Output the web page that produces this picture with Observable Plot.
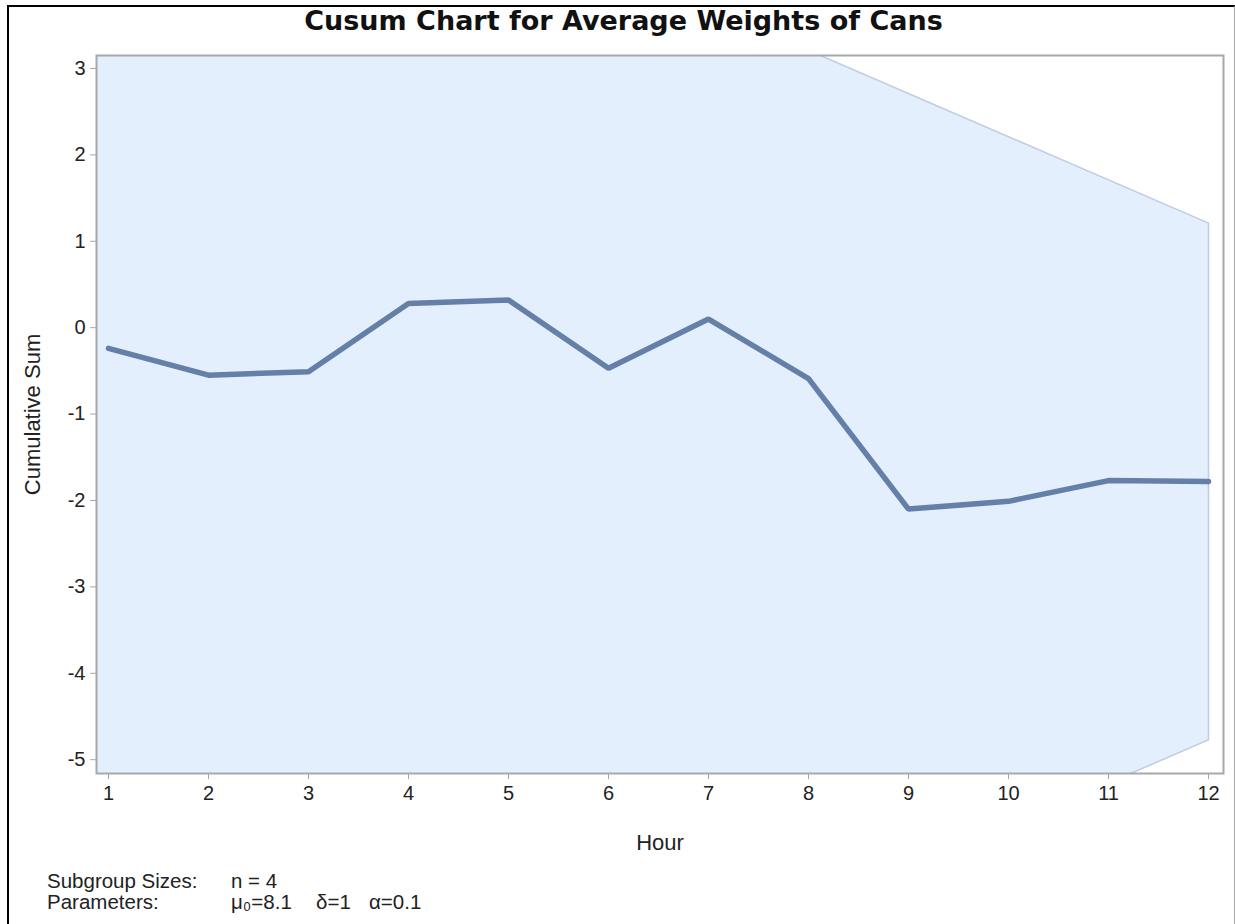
<!DOCTYPE html>
<html>
<head>
<meta charset="utf-8">
<script src="https://cdn.jsdelivr.net/npm/d3@7"></script>
<script src="https://cdn.jsdelivr.net/npm/@observablehq/plot@0.6"></script>
<style>
  html, body { margin: 0; padding: 0; background: #fff; overflow: hidden; }
  #wrap { position: relative; width: 1235px; height: 924px; overflow: hidden; font-family: "Liberation Sans", Arial, sans-serif; }
  #border { position: absolute; left: 7px; top: 5px; width: 1225px; height: 940px; border-left: 2px solid #000; border-top: 2px solid #000; border-right: 1px solid #aaa; }
  #title { position: absolute; left: 0; width: 1247px; top: 5px; text-align: center; font-family: "DejaVu Sans", sans-serif; font-weight: bold; font-size: 27px; color: #111; }
  #chart { position: absolute; left: 0; top: 0; }
  .foot { position: absolute; font-size: 20.5px; color: #222; line-height: 20.5px; white-space: pre; }
</style>
</head>
<body>
<div id="wrap">
  <div id="border"></div>
  <div id="chart"></div>
  <div id="title"></div>
  <div class="foot" id="f1l" style="left:47px; top:871px;"></div>
  <div class="foot" id="f2l" style="left:47px; top:892px;"></div>
  <div class="foot" id="f1r" style="left:231px; top:871px;"></div>
  <div class="foot" id="f2a" style="left:231px; top:892px;"></div>
  <div class="foot" id="f2b" style="left:316px; top:892px;"></div>
  <div class="foot" id="f2c" style="left:369px; top:892px;"></div>
</div>
<script>
// ---- data ----
const titleText = "Cusum Chart for Average Weights of Cans";
const hours = [1, 2, 3, 4, 5, 6, 7, 8, 9, 10, 11, 12];
const cusum = [-0.24, -0.55, -0.51, 0.28, 0.32, -0.47, 0.10, -0.59, -2.10, -2.01, -1.77, -1.78];
const xTicks = [1, 2, 3, 4, 5, 6, 7, 8, 9, 10, 11, 12];
const yTicks = [3, 2, 1, 0, -1, -2, -3, -4, -5];
// V-mask parameters (half-height h at the last point, arm slope k)
const maskH = 2.99;
const maskK = 0.5;
const maskX = [0, 12];
const footLabels = ["Subgroup Sizes:", "Parameters:"];
const footValues = ["n = 4", "\u03bc\u2080=8.1", "\u03b4=1", "\u03b1=0.1"];

// ---- build tables ----
const series = hours.map((h, i) => ({hour: h, sum: cusum[i]}));
const lastX = hours[hours.length - 1];
const lastY = cusum[cusum.length - 1];
const mask = maskX.map(x => ({
  x,
  lo: lastY - maskH - maskK * (lastX - x),
  hi: lastY + maskH + maskK * (lastX - x)
}));
const outline = [
  ...mask.map(d => ({x: d.x, y: d.hi})),
  ...mask.slice().reverse().map(d => ({x: d.x, y: d.lo}))
];

const chart = Plot.plot({
  width: 1235,
  height: 860,
  marginLeft: 96,
  marginRight: 12,
  marginTop: 55,
  marginBottom: 87,
  style: {fontFamily: "Liberation Sans, Arial, sans-serif", fontSize: "20px", color: "#222", background: "transparent"},
  x: {domain: [0.88, 12.15]},
  y: {domain: [-5.16, 3.15]},
  marks: [
    Plot.areaY(mask, {x: "x", y1: "lo", y2: "hi", fill: "#e3effd", clip: true}),
    Plot.line(outline, {x: "x", y: "y", stroke: "#c2cde2", strokeWidth: 1.6, clip: true}),
    Plot.line(series, {x: "hour", y: "sum", stroke: "#6580a8", strokeWidth: 5.5, strokeLinejoin: "miter"}),
    Plot.frame({stroke: "#a8a8a8", strokeWidth: 2}),
    Plot.axisX({ticks: xTicks, tickFormat: d => String(d), tickSize: 6, tickPadding: 6, stroke: "#a8a8a8", fill: "#222", fontSize: 20}),
    Plot.axisX({ticks: [], label: "Hour", labelAnchor: "center", labelArrow: "none", labelOffset: 76, fontSize: 22, fill: "#222"}),
    Plot.axisY({ticks: yTicks, tickFormat: d => String(d), tickSize: 6, tickPadding: 5, stroke: "#a8a8a8", fill: "#222", fontSize: 20}),
    Plot.axisY({ticks: [], label: "Cumulative Sum", labelAnchor: "center", labelArrow: "none", labelOffset: 72, fontSize: 22, fill: "#222"})
  ]
});
document.getElementById("chart").appendChild(chart);
document.getElementById("title").textContent = titleText;
document.getElementById("f1l").textContent = footLabels[0];
document.getElementById("f2l").textContent = footLabels[1];
document.getElementById("f1r").textContent = footValues[0];
document.getElementById("f2a").textContent = footValues[1];
document.getElementById("f2b").textContent = footValues[2];
document.getElementById("f2c").textContent = footValues[3];
</script>
</body>
</html>
